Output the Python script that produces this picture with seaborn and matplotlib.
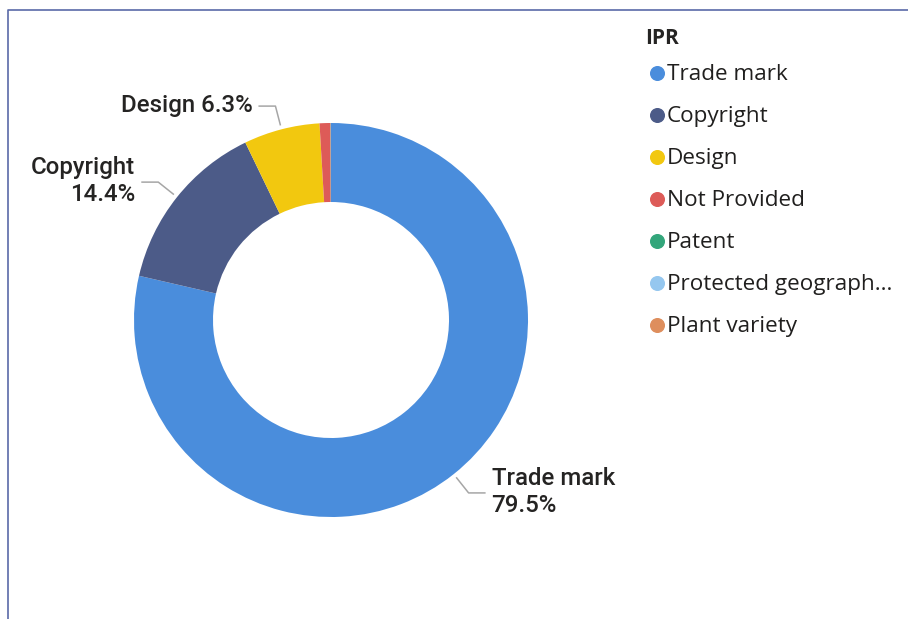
import numpy as np
import matplotlib.pyplot as plt
import seaborn as sns

# IPR share of records (percent)
categories = ['Trade mark', 'Copyright', 'Design', 'Not Provided', 'Patent',
              'Protected geographical indication', 'Plant variety']
shares = [79.5, 14.4, 6.3, 0.9, 0.02, 0.01, 0.01]
colors = ['#4a8ddc', '#4c5b88', '#f2c80f', '#dd5b58', '#33a67b', '#95c7ef', '#de8e5d']
labelled = ['Trade mark', 'Copyright', 'Design']
one_line = ['Design']

W, H = 908, 619

sns.set_theme(style='white')
palette = sns.color_palette(colors)

fig = plt.figure(figsize=(W / 100, H / 100), dpi=100)
ax = fig.add_axes([0, 0, 1, 1])

# donut, starts at 12 o'clock and runs clockwise like Power BI
wedges, _ = ax.pie(shares, colors=palette, startangle=90, counterclock=False,
                   center=(331, H - 320), radius=197,
                   wedgeprops=dict(width=79, linewidth=0))
ax.set_xlim(0, W)
ax.set_ylim(0, H)
ax.set_aspect('equal')
ax.axis('off')

# data labels with leader lines
for name, w, v in zip(categories, wedges, shares):
    if name not in labelled:
        continue
    ang = np.deg2rad((w.theta1 + w.theta2) / 2)
    cx, cy = w.center
    r = w.r
    c, s = np.cos(ang), np.sin(ang)
    side = 1 if c > 0 else -1
    x0, y0 = cx + (r + 4) * c, cy + (r + 4) * s
    x1, y1 = cx + (r + 24) * c, cy + (r + 24) * s
    x2 = x1 + side * 17
    ax.plot([x0, x1, x2], [y0, y1, y1], color='#a6a6a6', lw=1.1,
            solid_capstyle='butt')
    sep = ' ' if name in one_line else '\n'
    ax.text(x2 + side * 6, y1 + 1, f'{name}{sep}{v:.1f}%',
            ha='left' if side > 0 else 'right', va='center',
            fontsize=17.3, fontweight='medium', family='Roboto',
            color='#252423', linespacing=1.2)

# legend
ax.text(645, H - 38, 'IPR', fontsize=15, fontweight='bold', family='Open Sans',
        color='#252423', ha='left', va='center')
for i, (name, col) in enumerate(zip(categories, palette)):
    y = H - (73 + 42 * i)
    shown = name if len(name) <= 18 else name[:18] + '...'
    ax.plot([657], [y], marker='o', markersize=9.8, color=col, lw=0)
    ax.text(667, y - 1.5, shown, fontsize=16.2, family='Open Sans', color='#201f1e',
            ha='left', va='center')

# visual border (left and top)
ax.plot([8, 8, W], [0, H - 10, H - 10], color='#5a6aa8', lw=1.2, clip_on=False)

fig.savefig('out.png', dpi=100)
